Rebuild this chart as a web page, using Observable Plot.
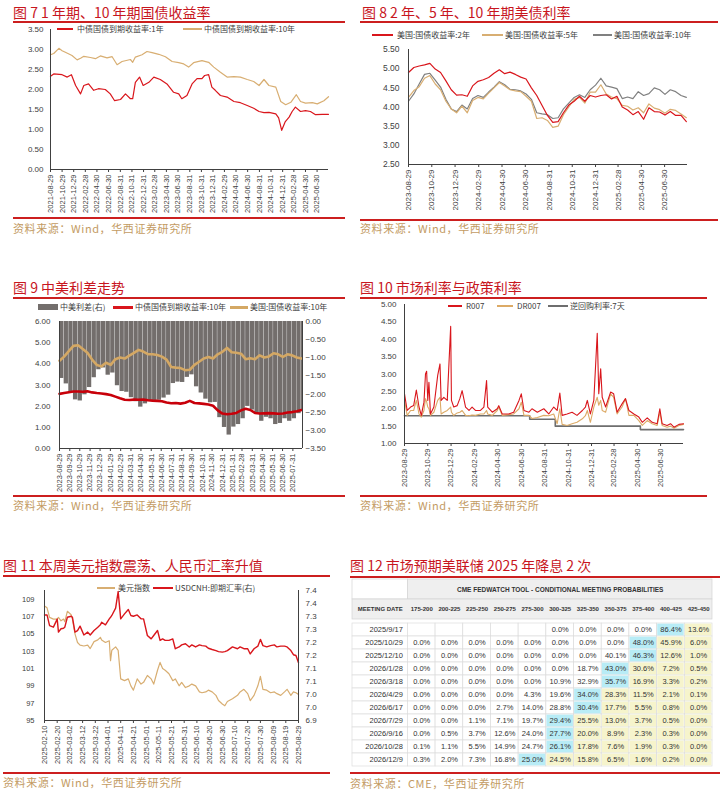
<!DOCTYPE html>
<html><head><meta charset="utf-8">
<script src="https://cdn.jsdelivr.net/npm/d3@7"></script>
<script src="https://cdn.jsdelivr.net/npm/@observablehq/plot@0.6"></script>
<style>
body{margin:0;width:720px;height:790px;background:#fff;position:relative;overflow:hidden;font-family:"Noto Sans CJK SC","Liberation Sans",sans-serif;}
</style></head><body>
<script>
// ================= DATA =================
// Fig 7 : China government bond yields
const fig7Ticks = ["2021-08-29","2021-10-29","2021-12-29","2022-02-28","2022-04-30","2022-06-30","2022-08-31","2022-10-31","2022-12-31","2023-02-28","2023-04-30","2023-06-30","2023-08-31","2023-10-31","2023-12-31","2024-02-29","2024-04-30","2024-06-30","2024-08-31","2024-10-31","2024-12-31","2025-02-28","2025-04-30","2025-06-30"];
const fig7YTicks = [0,0.5,1,1.5,2,2.5,3,3.5];
const cn1yDates = ["2021-08-29","2021-09-15","2021-10-29","2021-11-25","2021-12-17","2022-01-08","2022-02-03","2022-02-20","2022-03-17","2022-04-13","2022-05-08","2022-06-13","2022-07-09","2022-08-01","2022-09-01","2022-09-27","2022-10-23","2022-11-04","2022-11-18","2022-12-10","2022-12-29","2023-01-28","2023-02-23","2023-03-29","2023-05-03","2023-06-07","2023-07-04","2023-07-20","2023-08-16","2023-09-12","2023-10-08","2023-11-03","2023-11-17","2023-12-08","2023-12-25","2024-01-12","2024-02-08","2024-03-14","2024-04-19","2024-05-23","2024-06-28","2024-08-01","2024-08-29","2024-09-24","2024-10-20","2024-11-25","2024-12-10","2024-12-26","2025-01-13","2025-02-03","2025-02-19","2025-03-08","2025-04-04","2025-04-30","2025-05-26","2025-06-22","2025-07-27","2025-08-29"];
const cn1yVals = [2.33,2.39,2.37,2.31,2.37,2.10,1.89,2.10,2.14,1.98,2.02,2.00,1.89,1.72,1.75,1.89,1.77,1.77,2.18,2.31,2.10,2.18,2.31,2.25,2.14,1.93,1.89,1.77,1.85,2.14,2.27,2.27,2.35,2.37,2.06,1.98,1.85,1.81,1.70,1.67,1.60,1.53,1.45,1.42,1.43,1.39,1.29,0.98,1.19,1.31,1.45,1.56,1.45,1.47,1.45,1.37,1.38,1.38];
const cn10yDates = ["2021-08-29","2021-09-15","2021-10-12","2021-10-29","2021-11-15","2021-12-20","2022-01-16","2022-02-03","2022-02-20","2022-03-27","2022-04-22","2022-05-18","2022-06-22","2022-07-19","2022-08-14","2022-09-09","2022-10-23","2022-11-04","2022-11-18","2022-12-23","2023-01-18","2023-02-14","2023-03-21","2023-04-25","2023-05-30","2023-07-04","2023-07-30","2023-08-25","2023-09-20","2023-11-03","2023-12-08","2024-01-04","2024-02-08","2024-03-14","2024-04-19","2024-05-23","2024-06-28","2024-08-01","2024-08-29","2024-09-24","2024-10-20","2024-11-25","2024-12-21","2025-01-16","2025-02-12","2025-03-13","2025-04-04","2025-04-30","2025-06-05","2025-07-01","2025-08-05","2025-08-29"];
const cn10yVals = [2.87,2.90,3.03,2.97,2.93,2.85,2.74,2.78,2.83,2.80,2.77,2.84,2.79,2.82,2.62,2.70,2.75,2.68,2.81,2.87,2.95,2.92,2.88,2.82,2.70,2.67,2.64,2.56,2.67,2.72,2.68,2.56,2.43,2.31,2.32,2.31,2.25,2.20,2.10,2.25,2.10,2.06,1.70,1.62,1.68,1.87,1.70,1.66,1.67,1.64,1.72,1.82];

// Fig 8 / Fig 9 : bi-weekly observations starting 2023-08-29
const gridStart = "2023-08-29";
const gridStepDays = 14;
const us2y  = [4.90,5.03,5.07,5.10,5.14,4.99,4.90,4.68,4.45,4.31,4.32,4.28,4.55,4.67,4.71,4.77,4.88,4.97,4.87,4.91,4.85,4.78,4.73,4.50,4.30,4.04,3.78,3.60,3.62,3.85,4.05,4.15,4.28,4.15,4.30,4.26,4.30,4.32,4.21,4.28,4.00,3.92,3.80,3.88,3.68,3.98,3.88,3.87,3.79,3.88,3.78,3.78,3.62];
const us5y  = [4.25,4.43,4.53,4.75,4.82,4.60,4.45,4.15,3.95,3.85,4.02,3.85,4.17,4.25,4.21,4.36,4.50,4.64,4.55,4.45,4.42,4.40,4.28,4.15,3.70,3.72,3.65,3.47,3.50,3.80,4.00,4.20,4.25,4.10,4.39,4.39,4.58,4.34,4.26,4.22,4.04,4.02,3.92,3.98,3.85,4.08,3.97,3.93,3.84,3.94,3.91,3.82,3.72];
const us10y = [4.15,4.34,4.60,4.85,4.88,4.70,4.52,4.20,3.95,3.88,4.05,3.95,4.22,4.30,4.25,4.39,4.52,4.66,4.58,4.46,4.45,4.42,4.34,4.20,3.85,3.82,3.80,3.70,3.72,3.95,4.10,4.25,4.32,4.25,4.45,4.57,4.75,4.55,4.52,4.48,4.22,4.26,4.22,4.40,4.30,4.35,4.50,4.45,4.33,4.45,4.40,4.30,4.25];
const cn10yGrid = [2.58,2.62,2.66,2.69,2.69,2.68,2.70,2.65,2.62,2.60,2.57,2.53,2.45,2.37,2.30,2.29,2.31,2.30,2.31,2.28,2.26,2.25,2.23,2.17,2.14,2.15,2.12,2.16,2.25,2.15,2.13,2.11,2.08,2.02,1.80,1.65,1.62,1.64,1.68,1.80,1.88,1.82,1.68,1.65,1.66,1.67,1.66,1.64,1.65,1.70,1.72,1.76,1.82];
const fig8Ticks = ["2023-08-29","2023-10-29","2023-12-29","2024-02-29","2024-04-30","2024-06-30","2024-08-31","2024-10-31","2024-12-31","2025-02-28","2025-04-30","2025-06-30"];
const fig8YTicks = [2.5,3,3.5,4,4.5,5,5.5];
const fig9Ticks = ["2023-08-29","2023-09-29","2023-10-29","2023-11-29","2023-12-29","2024-01-29","2024-02-29","2024-03-31","2024-04-30","2024-05-31","2024-06-30","2024-07-31","2024-08-31","2024-09-30","2024-10-31","2024-11-30","2024-12-31","2025-01-31","2025-02-28","2025-03-31","2025-04-30","2025-05-31","2025-06-30","2025-07-31"];
const fig9LeftTicks = [0,1,2,3,4,5,6];
const fig9RightTicks = [0,-0.5,-1,-1.5,-2,-2.5,-3,-3.5];

// Fig 10 : money market rates
const mmDates = ["2023-08-29","2023-09-05","2023-09-14","2023-09-22","2023-09-29","2023-10-06","2023-10-12","2023-10-19","2023-10-23","2023-10-26","2023-10-29","2023-11-01","2023-11-05","2023-11-14","2023-11-24","2023-11-30","2023-12-03","2023-12-10","2023-12-19","2023-12-28","2023-12-30","2024-01-05","2024-01-14","2024-01-21","2024-01-27","2024-02-05","2024-02-14","2024-02-22","2024-03-02","2024-03-15","2024-03-24","2024-03-31","2024-04-03","2024-04-15","2024-04-28","2024-05-02","2024-05-11","2024-05-28","2024-06-10","2024-06-24","2024-06-30","2024-07-07","2024-07-20","2024-07-28","2024-08-11","2024-08-28","2024-09-10","2024-09-23","2024-10-02","2024-10-09","2024-10-15","2024-10-28","2024-11-10","2024-11-23","2024-12-07","2024-12-15","2024-12-20","2024-12-28","2025-01-06","2025-01-15","2025-01-19","2025-01-24","2025-01-28","2025-02-06","2025-02-19","2025-02-27","2025-03-08","2025-03-21","2025-03-30","2025-04-08","2025-04-21","2025-05-04","2025-05-13","2025-05-26","2025-06-08","2025-06-21","2025-06-28","2025-07-04","2025-07-17","2025-07-26","2025-08-04","2025-08-17","2025-08-29"];
const r007Vals = [2.43,1.95,2.05,2.09,2.54,2.05,1.81,2.19,3.00,3.08,2.24,2.76,1.85,2.05,2.96,3.29,2.24,2.33,2.24,4.37,2.24,2.05,2.09,2.29,2.52,2.05,1.95,2.05,1.95,1.95,2.05,2.81,2.05,1.90,2.00,2.09,1.85,1.85,1.90,2.24,2.43,1.95,1.90,2.00,1.90,2.00,1.85,2.05,1.95,2.45,1.81,1.85,1.90,1.81,1.95,2.05,2.24,1.85,2.24,4.17,2.43,3.15,2.33,2.05,2.48,2.43,1.90,2.14,2.29,1.95,1.85,1.76,1.61,1.74,1.61,1.57,2.00,1.57,1.52,1.57,1.47,1.55,1.57];
const dr007Vals = [2.24,1.81,1.95,1.95,2.24,1.85,1.76,1.95,2.29,2.20,2.05,2.00,1.81,1.90,2.24,2.33,1.85,1.90,1.95,2.05,1.90,1.81,1.88,1.90,1.95,1.81,1.80,1.82,1.81,1.85,1.85,1.95,1.85,1.81,1.95,2.05,1.81,1.83,1.85,2.00,2.19,1.81,1.81,1.72,1.75,1.81,1.80,1.85,1.57,2.00,1.55,1.52,1.57,1.61,1.71,1.80,1.95,1.61,2.05,2.33,2.10,2.24,1.95,1.90,2.43,2.33,1.85,2.05,2.29,1.81,1.81,1.66,1.52,1.66,1.57,1.52,1.90,1.52,1.47,1.50,1.44,1.52,1.55];
const policyDates = ["2023-08-29","2024-07-22","2024-09-27","2025-05-08","2025-08-29"];
const policyVals = [1.80,1.70,1.50,1.40,1.40];
const fig10YTicks = [1,1.5,2,2.5,3,3.5,4,4.5,5];

// Fig 11 : DXY and USDCNH
const fxDates = ["2025-02-10","2025-02-12","2025-02-14","2025-02-17","2025-02-20","2025-02-21","2025-02-23","2025-02-25","2025-02-26","2025-02-28","2025-03-03","2025-03-04","2025-03-06","2025-03-08","2025-03-10","2025-03-13","2025-03-16","2025-03-18","2025-03-21","2025-03-24","2025-03-26","2025-03-27","2025-03-30","2025-04-02","2025-04-03","2025-04-04","2025-04-07","2025-04-09","2025-04-11","2025-04-14","2025-04-17","2025-04-19","2025-04-21","2025-04-24","2025-04-27","2025-04-29","2025-05-02","2025-05-05","2025-05-07","2025-05-10","2025-05-12","2025-05-14","2025-05-16","2025-05-19","2025-05-22","2025-05-24","2025-05-27","2025-05-29","2025-06-01","2025-06-04","2025-06-06","2025-06-09","2025-06-12","2025-06-14","2025-06-17","2025-06-19","2025-06-22","2025-06-25","2025-06-27","2025-06-30","2025-07-02","2025-07-04","2025-07-08","2025-07-12","2025-07-14","2025-07-17","2025-07-20","2025-07-22","2025-07-25","2025-07-28","2025-07-30","2025-08-01","2025-08-04","2025-08-07","2025-08-10","2025-08-12","2025-08-15","2025-08-18","2025-08-20","2025-08-23","2025-08-25","2025-08-27","2025-08-29"];
const dxyVals = [108.2,108.0,106.9,106.7,106.7,106.9,106.5,106.7,106.4,107.6,107.2,106.7,105.0,104.0,103.7,103.6,103.7,103.3,104.1,104.3,104.6,104.3,104.0,104.2,101.9,103.1,103.5,103.1,99.8,99.6,99.8,99.0,98.5,99.8,99.2,99.4,100.2,99.8,99.2,100.8,101.7,101.0,100.8,100.4,99.6,99.8,99.0,99.4,98.8,99.0,99.2,99.0,98.3,98.2,98.3,98.5,98.3,97.9,97.3,96.9,96.7,97.2,97.5,97.9,98.3,98.6,98.1,97.3,97.9,99.0,100.1,98.6,98.5,98.2,98.3,98.1,97.9,98.3,98.6,97.9,98.3,98.2,98.0];
const cnhVals = [7.306,7.306,7.265,7.259,7.290,7.240,7.253,7.255,7.259,7.297,7.301,7.297,7.240,7.246,7.263,7.229,7.240,7.229,7.246,7.259,7.268,7.278,7.268,7.291,7.297,7.304,7.332,7.396,7.291,7.310,7.327,7.304,7.301,7.306,7.291,7.291,7.227,7.214,7.227,7.246,7.208,7.214,7.208,7.208,7.214,7.176,7.183,7.191,7.195,7.183,7.191,7.183,7.191,7.188,7.186,7.178,7.173,7.169,7.165,7.163,7.165,7.169,7.183,7.176,7.183,7.176,7.176,7.156,7.176,7.186,7.212,7.188,7.183,7.188,7.191,7.183,7.186,7.186,7.183,7.169,7.153,7.150,7.122];
const fig11Ticks = ["2025-02-10","2025-02-20","2025-03-02","2025-03-12","2025-03-22","2025-04-01","2025-04-11","2025-04-21","2025-05-01","2025-05-11","2025-05-21","2025-05-31","2025-06-10","2025-06-20","2025-06-30","2025-07-10","2025-07-20","2025-07-30","2025-08-09","2025-08-19","2025-08-29"];
const fig11LeftTicks = [95,97,99,101,103,105,107,109];
const fig11RightTicks = [7.40,7.35,7.30,7.25,7.20,7.15,7.10,7.05,7.00,6.95,6.90];
const fig11RightLabels = ["7.4","7.4","7.3","7.3","7.2","7.2","7.1","7.1","7.0","7.0","6.9"];

// Fig 12 : CME FedWatch table
const tableTitle = "CME FEDWATCH TOOL - CONDITIONAL MEETING PROBABILITIES";
const buckets = ["175-200","200-225","225-250","250-275","275-300","300-325","325-350","350-375","375-400","400-425","425-450"];
const meetingDates = ["2025/9/17","2025/10/29","2025/12/10","2026/1/28","2026/3/18","2026/4/29","2026/6/17","2026/7/29","2026/9/16","2026/10/28","2026/12/9"];
const probRows = [
  [null,null,null,null,null,0.0,0.0,0.0,0.0,86.4,13.6],
  [0.0,0.0,0.0,0.0,0.0,0.0,0.0,0.0,48.0,45.9,6.0],
  [0.0,0.0,0.0,0.0,0.0,0.0,0.0,40.1,46.3,12.6,1.0],
  [0.0,0.0,0.0,0.0,0.0,0.0,18.7,43.0,30.6,7.2,0.5],
  [0.0,0.0,0.0,0.0,0.0,10.9,32.9,35.7,16.9,3.3,0.2],
  [0.0,0.0,0.0,0.0,4.3,19.6,34.0,28.3,11.5,2.1,0.1],
  [0.0,0.0,0.0,2.7,14.0,28.8,30.4,17.7,5.5,0.8,0.0],
  [0.0,0.0,1.1,7.1,19.7,29.4,25.5,13.0,3.7,0.5,0.0],
  [0.0,0.5,3.7,12.6,24.0,27.7,20.0,8.9,2.3,0.3,0.0],
  [0.1,1.1,5.5,14.9,24.7,26.1,17.8,7.6,1.9,0.3,0.0],
  [0.3,2.0,7.3,16.8,25.0,24.5,15.8,6.5,1.6,0.2,0.0]
];

// ================= HELPERS =================
const parse = d3.utcParse("%Y-%m-%d");
const fmt = d3.utcFormat("%Y-%m-%d");
const f2 = d3.format(".2f");
const RED = "#d9161c", TAN = "#d8ae72", GRAY = "#808080", BARGRAY = "#736e6c", AX = "#404040";
const TITLE_RED = "#c8161e", LINE_RED = "#cc1f1f", SRC = "#c39b63";

function el(css, text) {
  const e = document.createElement("div");
  e.style.cssText = "position:absolute;white-space:nowrap;" + css;
  if (text != null) e.textContent = text;
  document.body.appendChild(e);
  return e;
}
function title(x, y, t) { el(`left:${x}px;top:${y-10}px;font-size:14px;line-height:20px;color:${TITLE_RED};`, t); }
function rline(x1, x2, y, h) { h = h || 1.5; el(`left:${x1}px;top:${y-h/2}px;width:${x2-x1}px;height:${h}px;background:${LINE_RED};`); }
function source(x, y, t) { el(`left:${x}px;top:${y-8}px;font-size:11px;line-height:16px;color:${SRC};letter-spacing:0.6px;`, t); }
function legend(x, y, kind, color, w, tx, label) {
  if (kind === "rect") el(`left:${x}px;top:${y-3}px;width:${w}px;height:6px;background:${color};`);
  else { const lw = kind === "thick" ? 3 : 1.5; el(`left:${x}px;top:${y-lw/2}px;width:${w}px;height:${lw}px;background:${color};`); }
  el(`left:${tx}px;top:${y-6}px;font-size:8px;line-height:12px;color:#404040;font-family:'Noto Sans CJK SC','Liberation Sans',sans-serif;`, label);
}
function mount(svg, x, y) {
  const d = document.createElement("div");
  d.style.cssText = `position:absolute;left:${x}px;top:${y}px;`;
  d.appendChild(svg);
  document.body.appendChild(d);
}
const baseStyle = {fontFamily: '"Liberation Sans", Arial, sans-serif', fontSize: "8px", color: AX, background: "transparent", overflow: "visible"};
function xDateAxis(ticks, fs) {
  return Plot.axisX(ticks.map(parse), {tickFormat: fmt, tickRotate: -90, tickSize: 3, tickPadding: 2, fontSize: fs, label: null});
}
const series = (dates, vals) => vals.map((v, i) => ({date: parse(dates[i]), v}));
const gridDates = us10y.map((_, i) => d3.utcDay.offset(parse(gridStart), gridStepDays * i));

// ================= FIG 7 =================
title(13, 12, "图 7 1 年期、10 年期国债收益率");
rline(13, 345, 22);
{
  const dom = [parse("2021-08-29"), parse("2025-08-29")];
  const svg = Plot.plot({
    width: 340, height: 193, marginLeft: 50, marginRight: 12, marginTop: 5, marginBottom: 48,
    style: baseStyle,
    x: {type: "utc", domain: dom, label: null},
    y: {domain: [0, 3.5], label: null},
    marks: [
      Plot.line(series(cn10yDates, cn10yVals), {x: "date", y: "v", stroke: TAN, strokeWidth: 1.2}),
      Plot.line(series(cn1yDates, cn1yVals), {x: "date", y: "v", stroke: RED, strokeWidth: 1.2}),
      Plot.axisY(fig7YTicks, {tickFormat: f2, tickSize: 0, tickPadding: 7, label: null}),
      xDateAxis(fig7Ticks, 7.5),
      Plot.ruleX([dom[0]], {stroke: AX}),
      Plot.ruleY([0], {stroke: AX})
    ]
  });
  mount(svg, 0, 24);
}
legend(57, 29, "line", RED, 16, 77, "中债国债到期收益率:1年");
legend(183, 29, "line", TAN, 19, 204, "中债国债到期收益率:10年");
rline(13, 345, 218);
source(13, 228, "资料来源：Wind，华西证券研究所");

// ================= FIG 8 =================
title(362, 12, "图 8 2 年、5 年、10 年期美债利率");
rline(360, 718, 22);
legend(372, 35, "line", RED, 21, 397, "美国:国债收益率:2年");
legend(482, 35, "line", TAN, 21, 505, "美国:国债收益率:5年");
legend(593, 35, "line", GRAY, 19, 614, "美国:国债收益率:10年");
{
  const dom = [parse("2023-08-29"), parse("2025-08-29")];
  const mk = (arr) => arr.map((v, i) => ({date: gridDates[i], v}));
  const svg = Plot.plot({
    width: 340, height: 172, marginLeft: 48, marginRight: 13, marginTop: 7, marginBottom: 50,
    style: baseStyle,
    x: {type: "utc", domain: dom, label: null},
    y: {domain: [2.5, 5.5], label: null},
    marks: [
      Plot.line(mk(us10y), {x: "date", y: "v", stroke: GRAY, strokeWidth: 1.2}),
      Plot.line(mk(us5y), {x: "date", y: "v", stroke: TAN, strokeWidth: 1.2}),
      Plot.line(mk(us2y), {x: "date", y: "v", stroke: RED, strokeWidth: 1.2}),
      Plot.axisY(fig8YTicks, {tickFormat: f2, tickSize: 0, tickPadding: 9, label: null, fontSize: 8.5}),
      xDateAxis(fig8Ticks, 8),
      Plot.ruleX([dom[0]], {stroke: AX}),
      Plot.ruleY([2.5], {stroke: AX})
    ]
  });
  mount(svg, 360, 42);
}
rline(360, 718, 220);
source(360, 228, "资料来源：Wind，华西证券研究所");

// ================= FIG 9 =================
title(13, 287, "图 9 中美利差走势");
rline(13, 345, 298);
legend(38, 307, "rect", BARGRAY, 20, 60, "中美利差(右)");
legend(113, 307, "thick", RED, 20, 135, "中债国债到期收益率:10年");
legend(230, 307, "thick", "#d4a864", 18, 250, "美国:国债收益率:10年");
{
  const dom = [parse("2023-08-29"), parse("2025-08-29")];
  const yR = d3.scaleLinear([-3.5, 0], [0, 6]);
  const rightMap = new Map(fig9RightTicks.map(v => [yR(v), f2(v)]));
  const bars = cn10yGrid.map((v, i) => ({x1: gridDates[i], x2: d3.utcDay.offset(gridDates[i], gridStepDays), s: v - us10y[i]}));
  const svg = Plot.plot({
    width: 335, height: 179, marginLeft: 59, marginRight: 33, marginTop: 7, marginBottom: 45,
    style: baseStyle,
    x: {type: "utc", domain: dom, label: null},
    y: {domain: [0, 6], label: null},
    marks: [
      Plot.rectY(bars, {x1: "x1", x2: "x2", y1: () => yR(0), y2: d => yR(d.s), fill: BARGRAY, insetRight: 0.35, clip: true}),
      Plot.line(cn10yGrid.map((v, i) => ({date: gridDates[i], v})), {x: "date", y: "v", stroke: "#c8000a", strokeWidth: 2.6}),
      Plot.line(us10y.map((v, i) => ({date: gridDates[i], v})), {x: "date", y: "v", stroke: "#d4a864", strokeWidth: 2.6}),
      Plot.axisY(fig9LeftTicks, {tickFormat: f2, tickSize: 0, tickPadding: 9, label: null}),
      Plot.axisY(fig9RightTicks.map(yR), {anchor: "right", tickFormat: d => rightMap.get(d), tickSize: 0, tickPadding: 3, label: null}),
      xDateAxis(fig9Ticks, 7.5),
      Plot.ruleX([dom[0], dom[1]], {stroke: AX}),
      Plot.ruleY([0], {stroke: AX})
    ]
  });
  mount(svg, 0, 314);
}
rline(13, 345, 496);
source(13, 505, "资料来源：Wind，华西证券研究所");

// ================= FIG 10 =================
title(360, 287, "图 10 市场利率与政策利率");
rline(360, 707, 298);
{
  const dom = [parse("2023-08-29"), parse("2025-08-29")];
  const svg = Plot.plot({
    width: 335, height: 191, marginLeft: 44, marginRight: 12, marginTop: 6, marginBottom: 46,
    style: baseStyle,
    x: {type: "utc", domain: dom, label: null},
    y: {domain: [1, 5], label: null},
    marks: [
      Plot.line(series(policyDates, policyVals), {x: "date", y: "v", stroke: "#6e6e6e", strokeWidth: 1.6, curve: "step-after"}),
      Plot.line(series(mmDates, dr007Vals), {x: "date", y: "v", stroke: "#dcaa66", strokeWidth: 1.1}),
      Plot.line(series(mmDates, r007Vals), {x: "date", y: "v", stroke: RED, strokeWidth: 1.1}),
      Plot.axisY(fig10YTicks, {tickFormat: f2, tickSize: 0, tickPadding: 8, label: null}),
      xDateAxis(fig8Ticks, 7.5),
      Plot.ruleX([dom[0]], {stroke: AX}),
      Plot.ruleY([1], {stroke: AX})
    ]
  });
  mount(svg, 360, 298);
}
legend(448, 306, "line", RED, 14, 466, "R007");
legend(497, 306, "line", "#dcaa66", 16, 517, "DR007");
legend(548, 306, "line", "#6e6e6e", 20, 570, "逆回购利率:7天");
rline(360, 707, 496);
source(360, 505, "资料来源：Wind，华西证券研究所");

// ================= FIG 11 =================
title(3, 565, "图 11 本周美元指数震荡、人民币汇率升值");
rline(3, 330, 576);
{
  const dom = [parse("2025-02-10"), parse("2025-08-29")];
  const yR = d3.scaleLinear([6.9, 7.4], [95, 110]);
  const rightMap = new Map(fig11RightTicks.map((v, i) => [yR(v), fig11RightLabels[i]]));
  const svg = Plot.plot({
    width: 330, height: 180, marginLeft: 44, marginRight: 32, marginTop: 5, marginBottom: 45,
    style: baseStyle,
    x: {type: "utc", domain: dom, label: null},
    y: {domain: [95, 110], label: null},
    marks: [
      Plot.line(series(fxDates, dxyVals), {x: "date", y: "v", stroke: TAN, strokeWidth: 1.2}),
      Plot.line(series(fxDates, cnhVals), {x: "date", y: d => yR(d.v), stroke: RED, strokeWidth: 1.4}),
      Plot.axisY(fig11LeftTicks, {tickSize: 0, tickPadding: 10, label: null, fontSize: 7.5}),
      Plot.axisY(fig11RightTicks.map(yR), {anchor: "right", tickFormat: d => rightMap.get(d), tickSize: 0, tickPadding: 7, label: null}),
      xDateAxis(fig11Ticks, 7.5),
      Plot.ruleX([dom[0], dom[1]], {stroke: AX}),
      Plot.ruleY([95], {stroke: AX})
    ]
  });
  mount(svg, 0, 585);
}
legend(97, 588, "line", TAN, 18, 118, "美元指数");
legend(153, 588, "line", RED, 20, 175, "USDCNH:即期汇率(右)");
rline(3, 330, 773);
source(3, 782, "资料来源：Wind，华西证券研究所");

// ================= FIG 12 =================
title(350, 565, "图 12 市场预期美联储 2025 年降息 2 次");
rline(350, 720, 577);
{
  const nB = buckets.length;
  const tStyle = {fontFamily: '"Liberation Sans", Arial, sans-serif', fontSize: "7.5px", color: "#333", background: "transparent", overflow: "visible"};
  const header = Plot.plot({
    width: 360, height: 41, margin: 0, style: tStyle,
    x: {domain: [-2, nB], axis: null},
    y: {type: "band", domain: ["t", "h"], padding: 0, axis: null},
    marks: [
      Plot.barX(["t"], {x1: -2, x2: 0, y: d => d, fill: "white", stroke: "#d4d4d4", strokeWidth: 0.7}),
      Plot.barX(["t"], {x1: 0, x2: nB, y: d => d, fill: "#efefef", stroke: "#d4d4d4", strokeWidth: 0.7}),
      Plot.barX(["h"], {x1: -2, x2: nB, y: d => d, fill: "#efefef", stroke: "#d4d4d4", strokeWidth: 0.7}),
      Plot.text([tableTitle], {x: nB / 2, y: () => "t", fontWeight: "bold", fontSize: 6.5, fill: "#333"}),
      Plot.text(["MEETING DATE", ...buckets], {x: (d, i) => i === 0 ? -1 : i - 0.5, y: () => "h", fontWeight: "bold", fontSize: 6, fill: "#333"})
    ]
  });
  mount(header, 352, 578);

  const cells = [];
  meetingDates.forEach((m, r) => {
    const row = probRows[r];
    const mx = d3.max(row);
    const mi = row.indexOf(mx);
    row.forEach((v, c) => cells.push({date: m, col: c, v, cls: v == null ? "none" : c === mi ? "max" : c > mi ? "above" : "below"}));
  });
  const colorOf = {max: "#b8ecf6", above: "#f6f4cc"};
  const body = Plot.plot({
    width: 360, height: 151, margin: 0, style: tStyle,
    x: {domain: [-2, nB], axis: null},
    y: {type: "band", domain: meetingDates, padding: 0, axis: null},
    marks: [
      Plot.barX(meetingDates, {x1: -2, x2: 0, y: d => d, fill: "white", stroke: "#dcdcdc", strokeWidth: 0.7}),
      Plot.barX(cells, {x1: "col", x2: d => d.col + 1, y: "date", fill: "white", stroke: "#dcdcdc", strokeWidth: 0.7}),
      Plot.barX(cells.filter(d => colorOf[d.cls]), {x1: "col", x2: d => d.col + 1, y: "date", fill: d => colorOf[d.cls], inset: 0.6}),
      Plot.text(meetingDates, {x: 0, y: d => d, text: d => d, textAnchor: "end", dx: -5, fontSize: 7.5, fill: "#333"}),
      Plot.text(cells.filter(d => d.v != null), {x: d => d.col + 0.5, y: "date", text: d => d.v.toFixed(1) + "%", fontSize: 7.5, fill: "#333"})
    ]
  });
  mount(body, 352, 619);
}
rline(350, 720, 773);
source(350, 783, "资料来源：CME，华西证券研究所");
</script>
</body></html>
